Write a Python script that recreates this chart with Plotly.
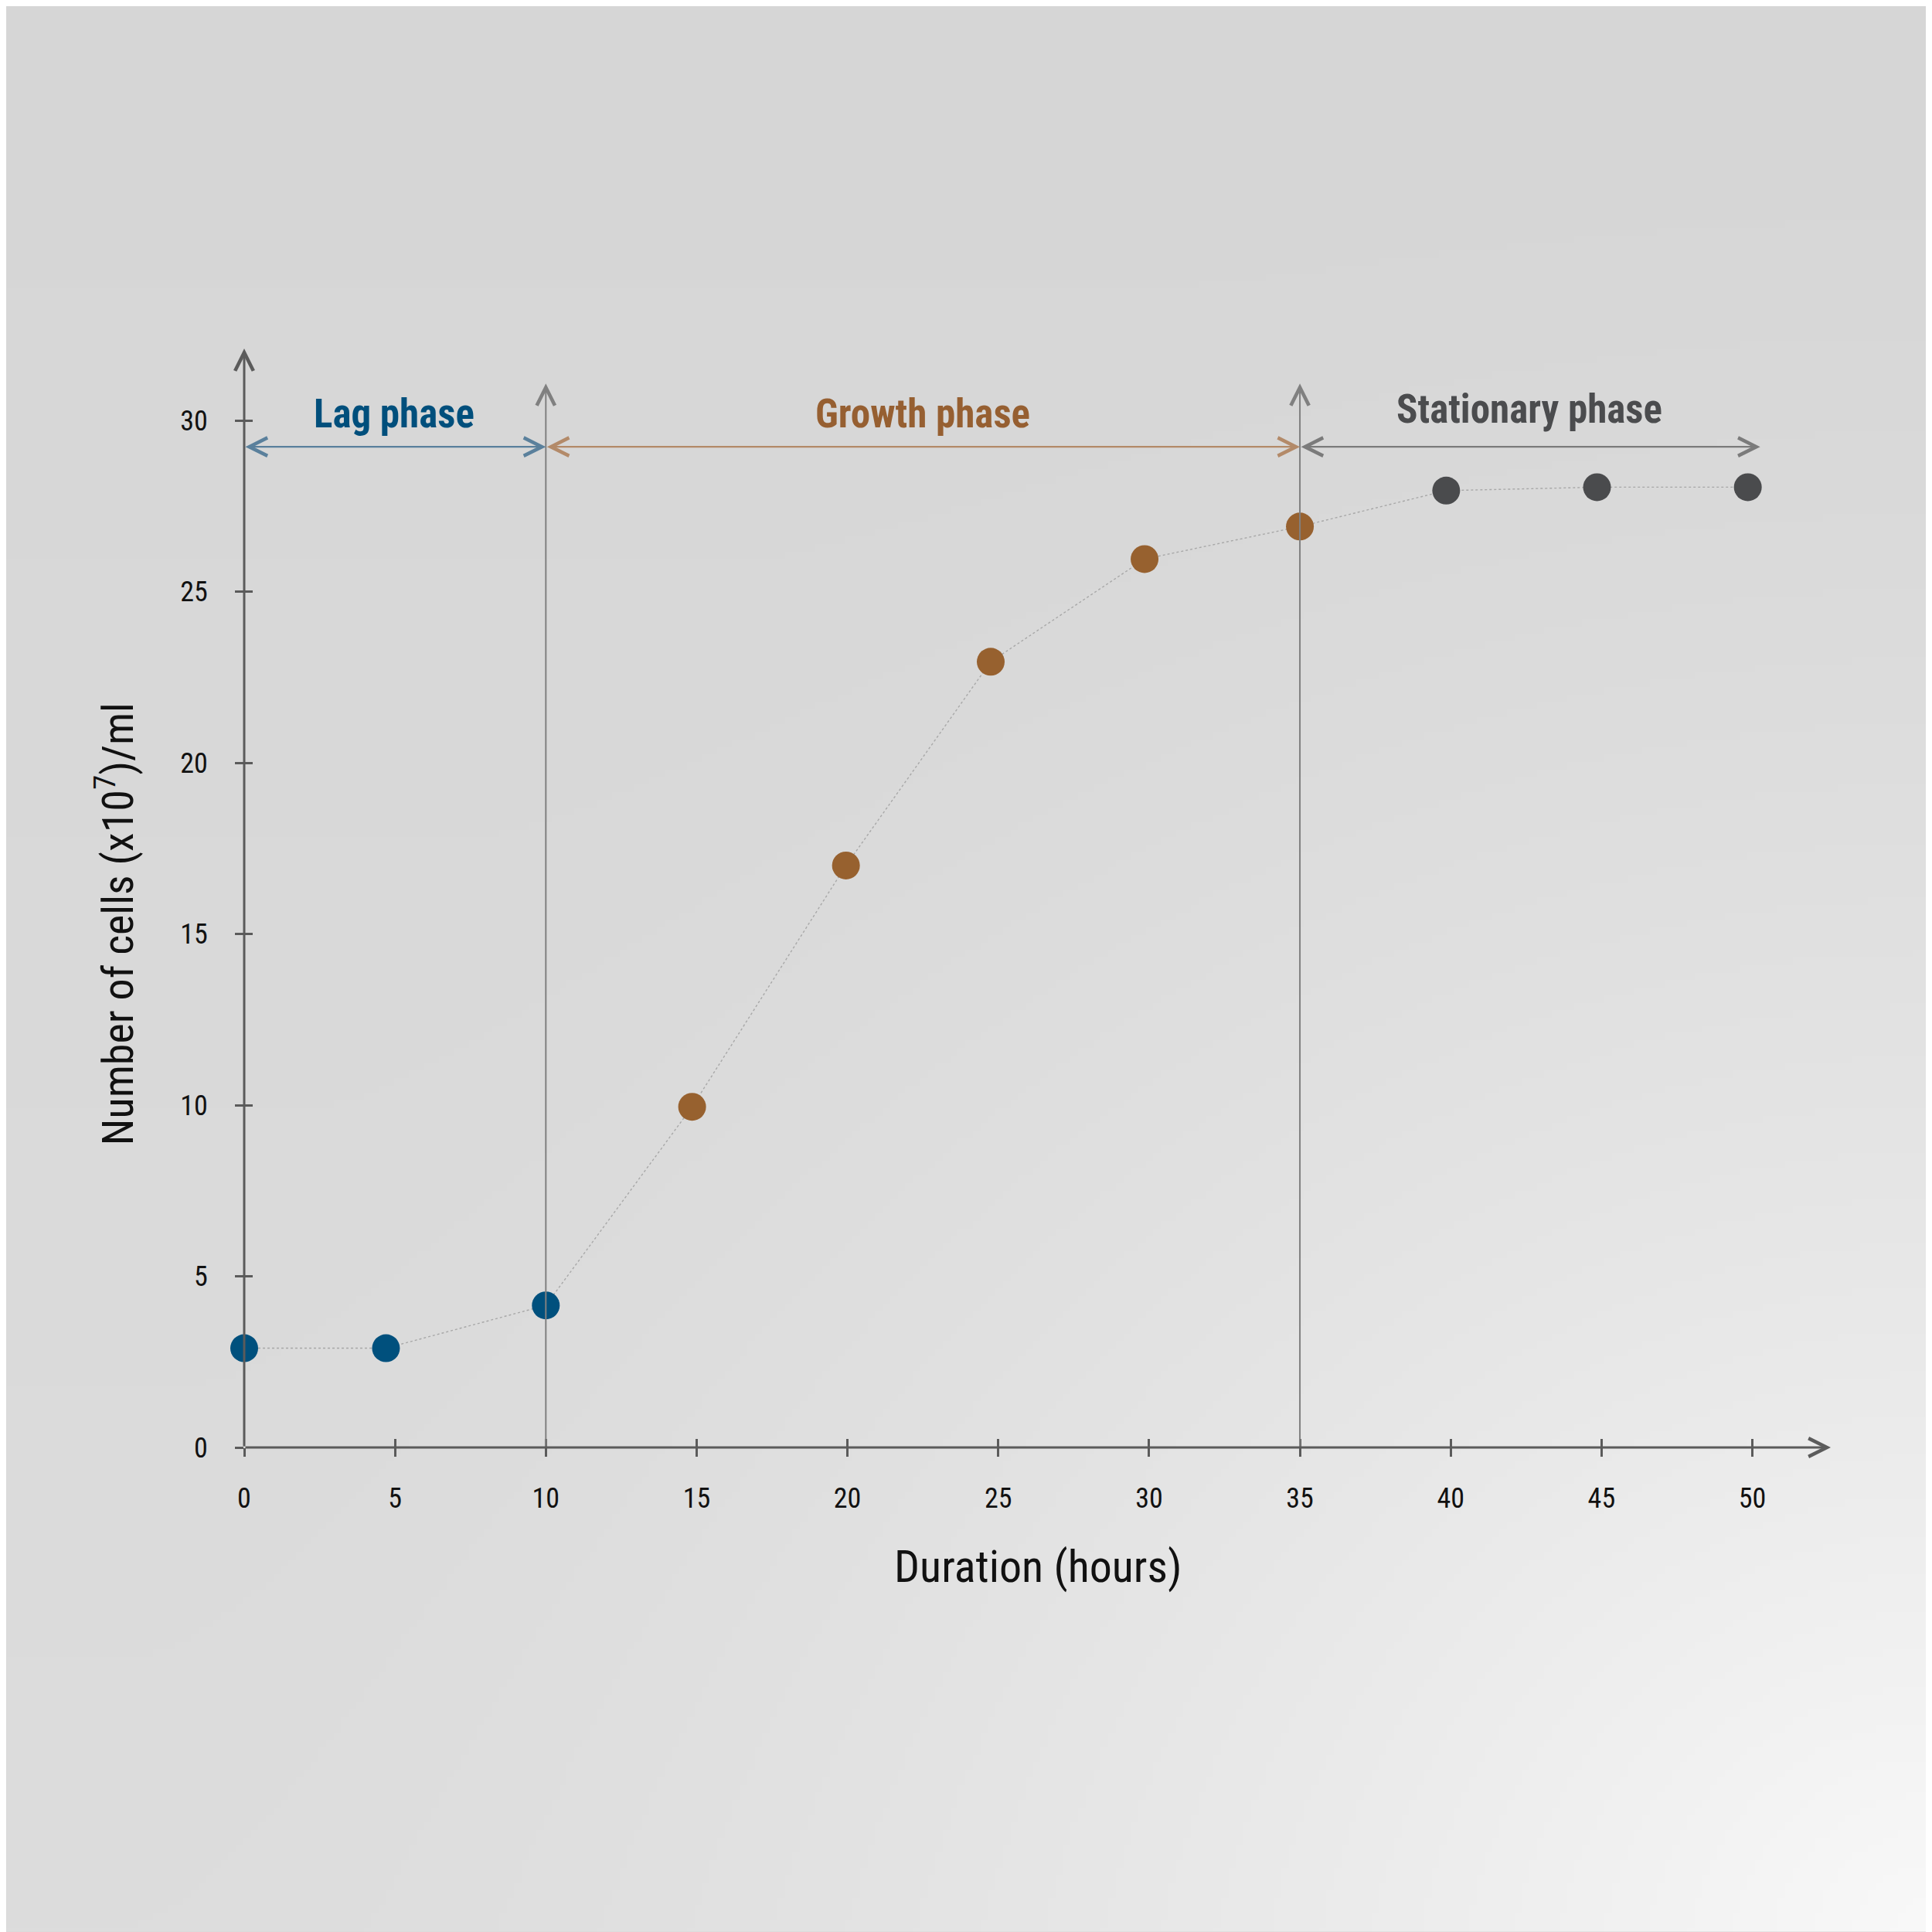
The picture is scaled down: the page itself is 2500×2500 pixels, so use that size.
import base64
import struct
import zlib

import numpy as np
import plotly.graph_objects as go

# ---------------- data ----------------
hours = [0, 4.7, 10, 14.85, 19.95, 24.75, 29.85, 35, 39.85, 44.85, 49.85]
cells = [2.9, 2.9, 4.15, 9.95, 17.0, 22.95, 25.95, 26.9, 27.95, 28.05, 28.05]
point_phase = [0, 0, 0, 1, 1, 1, 1, 1, 2, 2, 2]

phase_names = ["Lag phase", "Growth phase", "Stationary phase"]
phase_start = [0, 10, 35]
phase_end = [10, 35, 50.26]
phase_label_x = [4.98, 22.5, 42.6]
phase_label_y = [30.19, 30.19, 30.32]
phase_arrow_y = 29.23
phase_boundaries = [10, 35]
boundary_top = 31.08

x_ticks = [0, 5, 10, 15, 20, 25, 30, 35, 40, 45, 50]
y_ticks = [0, 5, 10, 15, 20, 25, 30]
x_max = 52.6
y_max = 32.1

x_title = "Duration (hours)"
y_title = "Number of cells (x10<sup>7</sup>)/ml"

# ---------------- styles ----------------
phase_text_colors = ["#004f7c", "#965f31", "#4b4c4e"]
phase_marker_colors = ["#00507d", "#97612f", "#4a4b4d"]
phase_arrow_colors = ["#5a809c", "#b38a69", "#7b7b7b"]
axis_color = "#5b5b5b"
FONT = "Liberation Sans Narrow, Roboto Condensed, DejaVu Sans Condensed, Arial Narrow, sans-serif"

OFF = 8  # page body margin
W = H = 2500 - OFF
ML, MR, MT, MB = 315.7 - OFF, 130.7, 451.0 - OFF, 626.6
PW = W - ML - MR
PH = H - MT - MB


# ---------------- background (soft paper gradient) ----------------
def make_png(pix):
    h, w, _ = pix.shape
    raw = b"".join(b"\x00" + pix[r].tobytes() for r in range(h))

    def chunk(t, d):
        c = struct.pack(">I", len(d)) + t + d
        return c + struct.pack(">I", zlib.crc32(t + d) & 0xFFFFFFFF)

    return (b"\x89PNG\r\n\x1a\n"
            + chunk(b"IHDR", struct.pack(">IIBBBBB", w, h, 8, 2, 0, 0, 0))
            + chunk(b"IDAT", zlib.compress(raw, 9))
            + chunk(b"IEND", b""))


n = 256
u, v = np.meshgrid(np.linspace(0, 1, n), np.linspace(0, 1, n))
d = np.sqrt((1 - u) ** 2 + (1 - v) ** 2)
f = np.clip(1 - d / 0.95, 0, 1) ** 1.7
val = 214 + 7 * v + 28 * f
val = np.clip(val, 0, 255).astype(np.uint8)
pix = np.stack([val, val, val], axis=-1)
bg_src = "data:image/png;base64," + base64.b64encode(make_png(pix)).decode()

fig = go.Figure()

# connecting line
fig.add_trace(go.Scatter(
    x=hours, y=cells, mode="lines",
    line=dict(color="#a8a8a8", width=1.4, dash="dot"),
    hoverinfo="skip", showlegend=False, cliponaxis=False,
))
# points
fig.add_trace(go.Scatter(
    x=hours, y=cells, mode="markers",
    marker=dict(size=36, color=[phase_marker_colors[p] for p in point_phase],
                line=dict(width=0)),
    showlegend=False, cliponaxis=False,
))
# invisible trace for the overlay (inside-tick) axes
fig.add_trace(go.Scatter(x=[None], y=[None], xaxis="x2", yaxis="y2",
                         showlegend=False, hoverinfo="skip"))

annotations = []


def arrow(x0, y0, x1, y1, color, width, size, both=False):
    a = dict(x=x1, y=y1, ax=x0, ay=y0, xref="x", yref="y", axref="x", ayref="y",
             text="", showarrow=True, arrowhead=5, arrowsize=size,
             arrowwidth=width, arrowcolor=color, standoff=0, startstandoff=0)
    if both:
        a.update(arrowside="end+start", startarrowhead=5, startarrowsize=size)
    return a


# axes with arrow tips
annotations.append(arrow(0, 0, x_max, 0, axis_color, 3, 1.55))
annotations.append(arrow(0, 0, 0, y_max, axis_color, 3, 1.55))
# phase boundaries
for b in phase_boundaries:
    annotations.append(arrow(b, 0, b, boundary_top, "#808080", 2, 2.3))
# phase span arrows and labels
for i, name in enumerate(phase_names):
    annotations.append(arrow(phase_start[i], phase_arrow_y, phase_end[i], phase_arrow_y,
                             phase_arrow_colors[i], 2.2, 2.1, both=True))
    annotations.append(dict(
        x=phase_label_x[i], y=phase_label_y[i], xref="x", yref="y",
        text="<b>" + name + "</b>", showarrow=False, xanchor="center", yanchor="middle",
        font=dict(family=FONT, size=51, color=phase_text_colors[i]),
    ))

# axis titles
annotations.append(dict(
    x=0.5, y=(H - MB - (2027.5 - OFF)) / PH,
    xref="paper", yref="paper", text=x_title, showarrow=False,
    xanchor="center", yanchor="middle",
    font=dict(family=FONT, size=58, color="#111111"),
))
annotations.append(dict(
    x=(149 - OFF - ML) / PW, y=(H - MB - (1196 - OFF)) / PH, xref="paper", yref="paper",
    text=y_title, showarrow=False, textangle=-90,
    xanchor="center", yanchor="middle",
    font=dict(family=FONT, size=56, color="#111111"),
))

tick_common = dict(showgrid=False, zeroline=False, showline=False,
                   tickcolor=axis_color, tickwidth=2.5, ticklen=11)

fig.update_layout(
    width=W, height=H, autosize=False,
    margin=dict(l=ML, r=MR, t=MT, b=MB, pad=0),
    paper_bgcolor="#d9d9d9", plot_bgcolor="rgba(0,0,0,0)",
    showlegend=False,
    xaxis=dict(range=[0, x_max], tickvals=x_ticks, ticktext=[str(t) for t in x_ticks],
               ticks="outside", ticklabelstandoff=23,
               tickfont=dict(family=FONT, size=36, color="#111111"), **tick_common),
    yaxis=dict(range=[0, y_max], tickvals=y_ticks, ticktext=[str(t) for t in y_ticks],
               ticks="outside", ticklabelstandoff=28,
               tickfont=dict(family=FONT, size=36, color="#111111"), **tick_common),
    xaxis2=dict(range=[0, x_max], tickvals=x_ticks, overlaying="x", anchor="y",
                side="bottom", ticks="inside", showticklabels=False, **tick_common),
    yaxis2=dict(range=[0, y_max], tickvals=y_ticks, overlaying="y", anchor="x",
                side="left", ticks="inside", showticklabels=False, **tick_common),
    annotations=annotations,
    images=[dict(source=bg_src, xref="paper", yref="paper",
                 x=-ML / PW, y=(H - MB) / PH, sizex=W / PW, sizey=H / PH,
                 xanchor="left", yanchor="top", sizing="stretch", layer="below")],
)

fig.write_html("out.html")
